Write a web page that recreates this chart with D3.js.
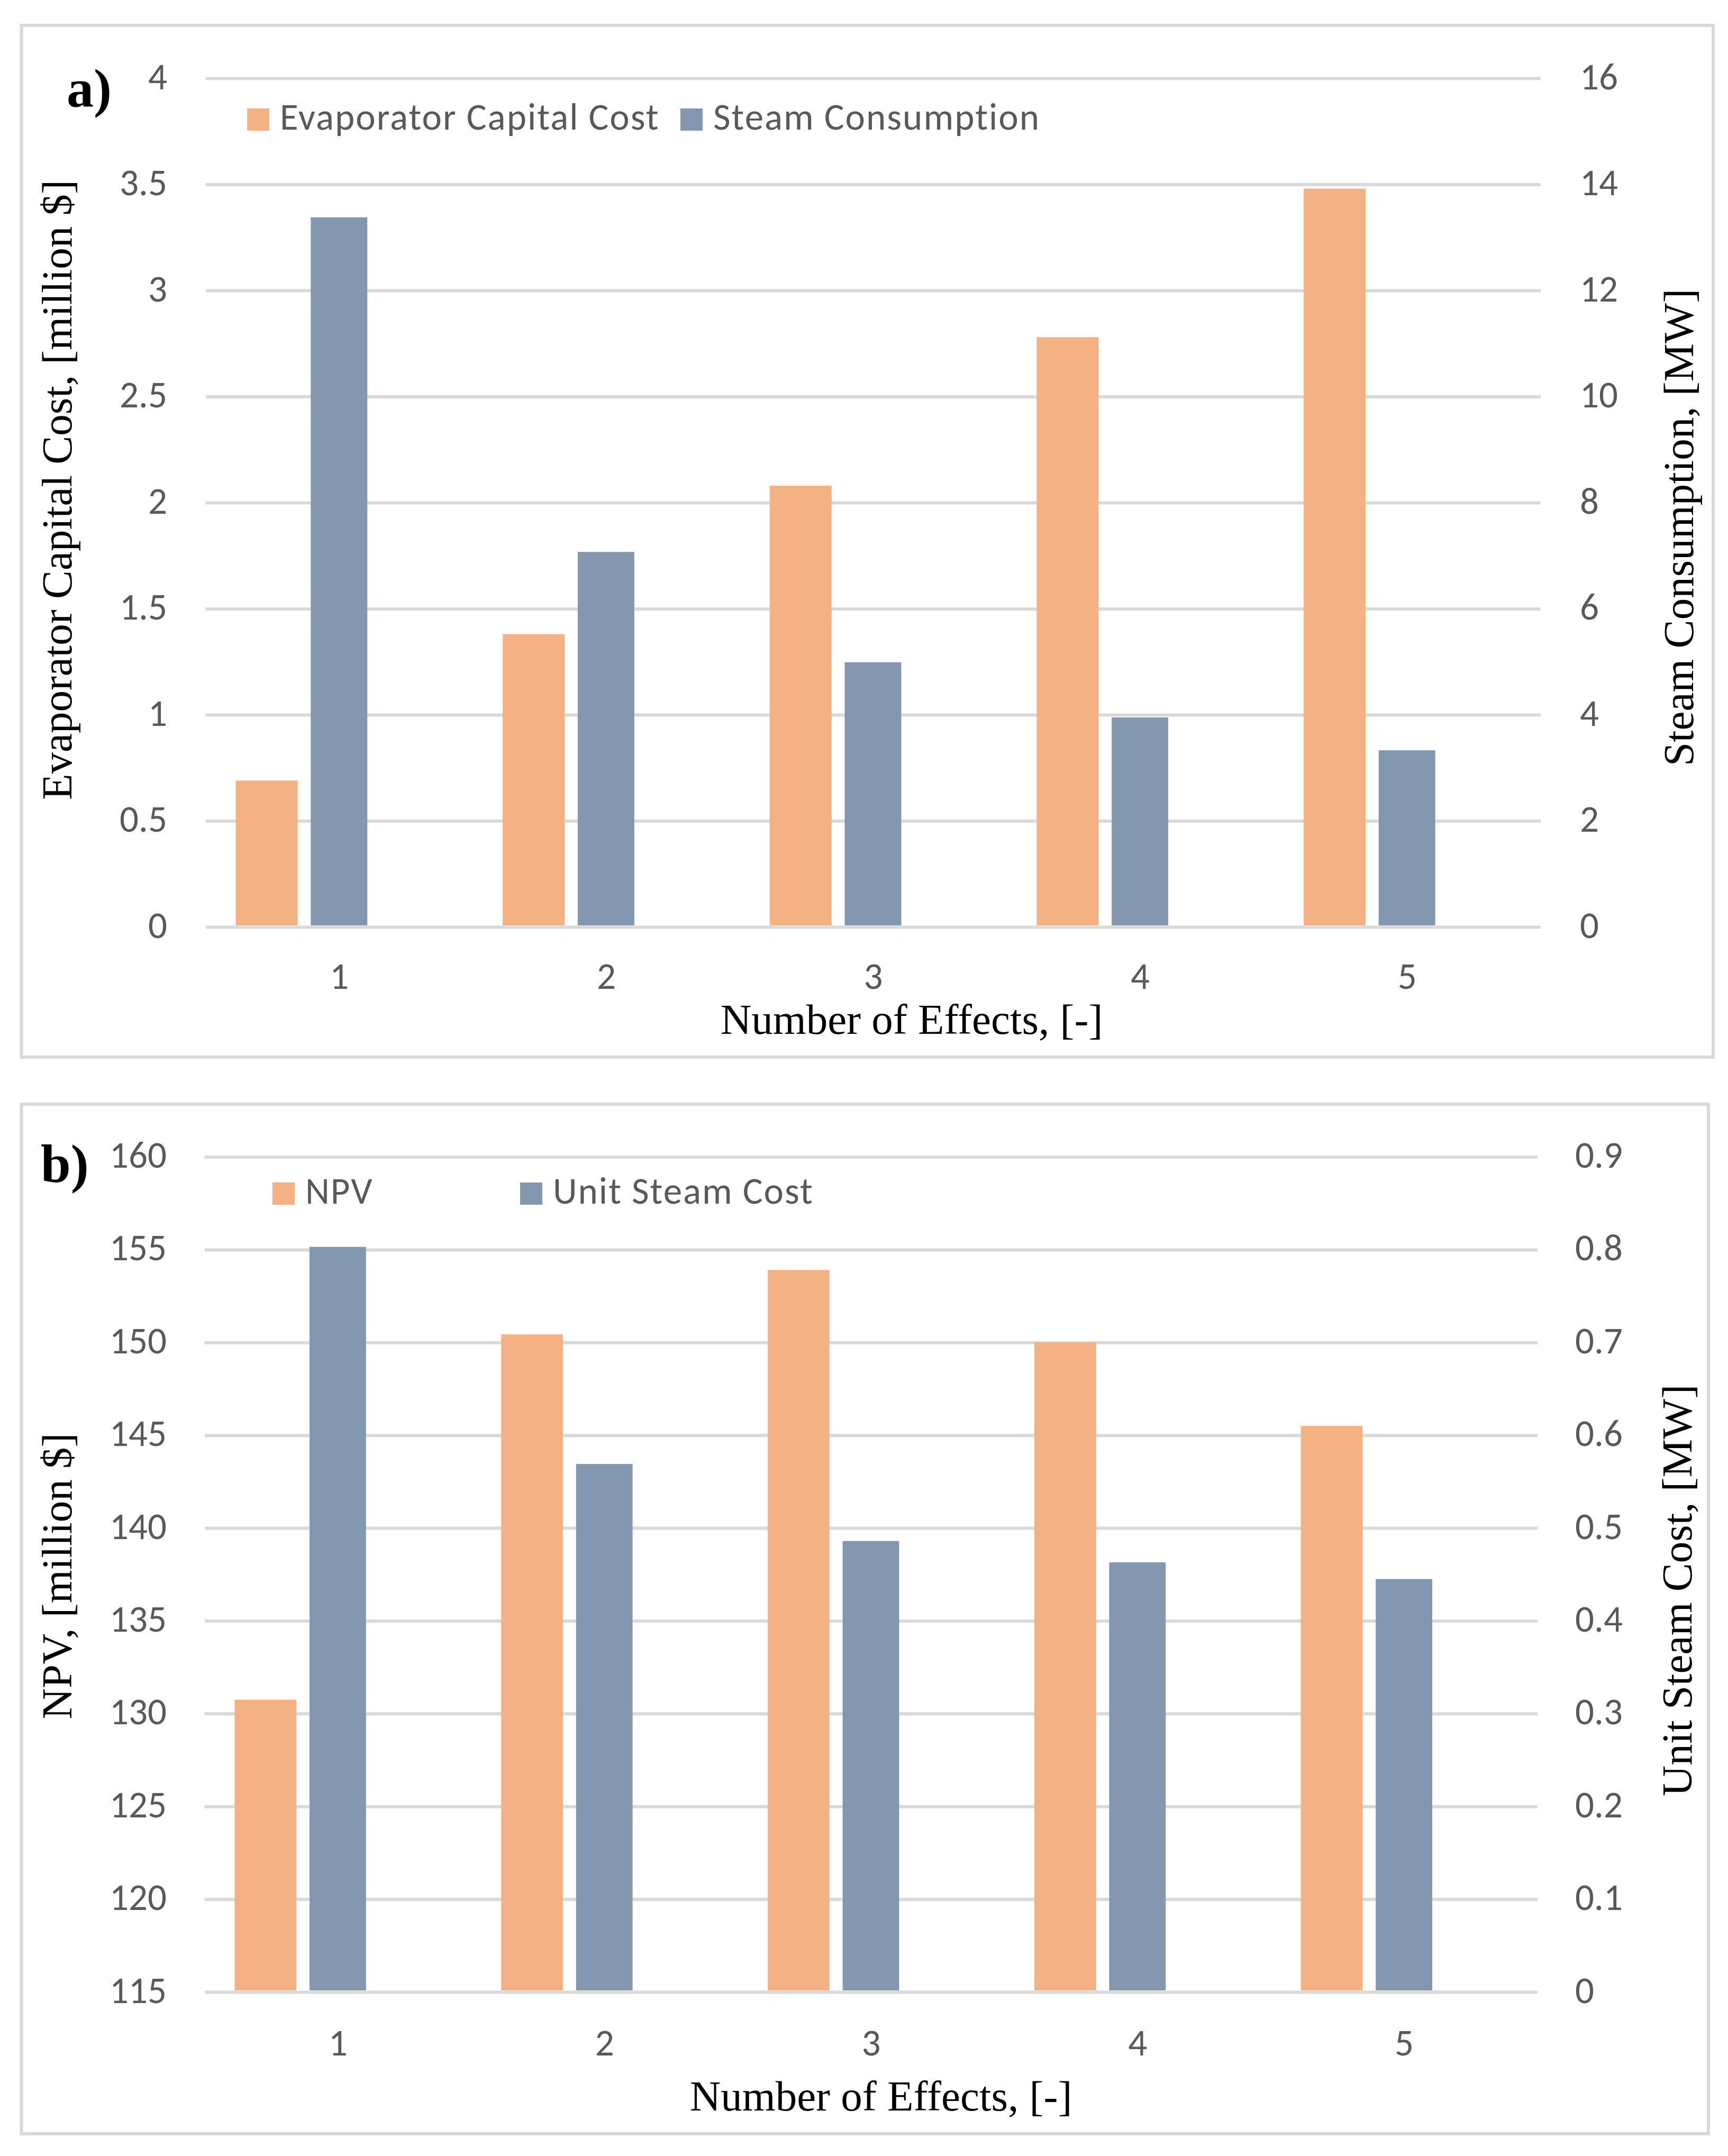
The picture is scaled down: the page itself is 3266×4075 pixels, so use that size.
<!DOCTYPE html>
<html>
<head>
<meta charset="utf-8">
<script src="https://cdn.jsdelivr.net/npm/d3@7"></script>
<style>
  body { margin: 0; background: #fff; }
  svg { display: block; }
</style>
</head>
<body>
<svg id="chart" width="3266" height="4075"></svg>
<script>
// values
const effects = ["1", "2", "3", "4", "5"];

const evapCapitalCost = [0.69, 1.38, 2.08, 2.78, 3.48];
const steamConsumption = [13.38, 7.07, 4.99, 3.95, 3.33];
const evapTicks = [0, 0.5, 1, 1.5, 2, 2.5, 3, 3.5, 4];
const steamTicks = [0, 2, 4, 6, 8, 10, 12, 14, 16];

const npv = [130.75, 150.43, 153.9, 150.0, 145.5];
const unitSteamCost = [0.803, 0.569, 0.486, 0.463, 0.445];
const npvTicks = [115, 120, 125, 130, 135, 140, 145, 150, 155, 160];
const unitCostTicks = [0, 0.1, 0.2, 0.3, 0.4, 0.5, 0.6, 0.7, 0.8, 0.9];

const ORANGE = "#F4B183", BLUE = "#8497B0", GRID = "#D9D9D9", TICK = "#595959";
const SANS = "Carlito, Calibri, 'Open Sans', sans-serif";
const SERIF = "'Liberation Serif', 'Times New Roman', serif";
const TICK_FONT = `71px ${SANS}`;

const svg = d3.select("#chart");
svg.append("rect").attr("width", 3266).attr("height", 4075).attr("fill", "#fff");

function drawPanel(p) {
  const g = svg.append("g");

  // frame
  g.append("rect")
      .attr("x", p.frame[0]).attr("y", p.frame[1])
      .attr("width", p.frame[2] - p.frame[0]).attr("height", p.frame[3] - p.frame[1])
      .attr("fill", "none").attr("stroke", GRID).attr("stroke-width", 6);

  const x = d3.scaleBand().domain(effects).range([p.left, p.right]).padding(0);
  const yL = d3.scaleLinear().domain(d3.extent(p.leftTicks)).range([p.bottom, p.top]);
  const yR = d3.scaleLinear().domain(d3.extent(p.rightTicks)).range([p.bottom, p.top]);
  const w = p.right - p.left;

  // gridlines + left labels
  const ax = g.append("g").attr("transform", `translate(${p.left},0)`)
      .call(d3.axisLeft(yL).tickValues(p.leftTicks).tickSize(-w).tickPadding(p.left - p.leftLabelX)
        .tickFormat(d3.format("")));
  ax.select(".domain").remove();
  ax.selectAll("line").attr("stroke", GRID).attr("stroke-width", 6);
  ax.selectAll("text").attr("dy", null).attr("y", 20)
      .attr("fill", TICK).style("font", TICK_FONT);

  const axR = g.append("g").attr("transform", `translate(${p.right},0)`)
      .call(d3.axisRight(yR).tickValues(p.rightTicks).tickSize(0).tickPadding(p.rightLabelX - p.right)
        .tickFormat(d3.format("")));
  axR.select(".domain").remove();
  axR.selectAll("text").attr("dy", null).attr("y", 20)
      .attr("fill", TICK).style("font", TICK_FONT);

  const axB = g.append("g").attr("transform", `translate(0,${p.bottom})`)
      .call(d3.axisBottom(x).tickSize(0));
  axB.select(".domain").remove();
  axB.selectAll("text").attr("dy", null).attr("y", p.xLabelY - p.bottom)
      .attr("fill", TICK).style("font", TICK_FONT);

  // bars: primary series on the left of each band, secondary next to it
  const bw = x.bandwidth();
  g.append("g").selectAll("rect").data(p.leftValues).join("rect")
      .attr("x", (d, i) => x(effects[i]) + bw * 0.112)
      .attr("width", bw * 0.232)
      .attr("y", d => yL(d))
      .attr("height", d => p.bottom - 3 - yL(d))
      .attr("fill", ORANGE);
  g.append("g").selectAll("rect").data(p.rightValues).join("rect")
      .attr("x", (d, i) => x(effects[i]) + bw * 0.393)
      .attr("width", bw * 0.212)
      .attr("y", d => yR(d))
      .attr("height", d => p.bottom - 3 - yR(d))
      .attr("fill", BLUE);

  // legend
  const leg = g.append("g").selectAll("g").data(p.legend).join("g");
  leg.append("rect")
      .attr("x", d => d.x).attr("y", p.legendY)
      .attr("width", 42).attr("height", 42)
      .attr("fill", (d, i) => i ? BLUE : ORANGE);
  leg.append("text")
      .attr("x", d => d.x + 62).attr("y", p.legendY + 40)
      .attr("fill", TICK).style("font", TICK_FONT).style("letter-spacing", "2px")
      .text(d => d.label);

  // axis titles
  g.append("text")
      .attr("transform", `translate(${p.leftTitle[0]},${p.leftTitle[1]}) rotate(-90)`)
      .attr("text-anchor", "middle").style("font", `81px ${SERIF}`).attr("fill", "#000")
      .text(p.leftTitleText);
  g.append("text")
      .attr("transform", `translate(${p.rightTitle[0]},${p.rightTitle[1]}) rotate(-90)`)
      .attr("text-anchor", "middle").style("font", `81px ${SERIF}`).attr("fill", "#000")
      .text(p.rightTitleText);
  g.append("text")
      .attr("x", p.xTitle[0]).attr("y", p.xTitle[1])
      .attr("text-anchor", "middle").style("font", `81px ${SERIF}`).attr("fill", "#000")
      .text("Number of Effects, [-]");

  // panel letter
  g.append("text")
      .attr("x", p.tag[0]).attr("y", p.tag[1])
      .style("font", `bold 102px ${SERIF}`).attr("fill", "#000")
      .text(p.tagText);
}

drawPanel({
  frame: [40.5, 48, 3238, 1998],
  left: 389, right: 2912, top: 148, bottom: 1752,
  leftTicks: evapTicks, rightTicks: steamTicks,
  leftValues: evapCapitalCost, rightValues: steamConsumption,
  leftLabelX: 316, rightLabelX: 2986, xLabelY: 1869,
  legendY: 205,
  legend: [{x: 467, label: "Evaporator Capital Cost"}, {x: 1286, label: "Steam Consumption"}],
  leftTitle: [135, 926], leftTitleText: "Evaporator Capital Cost, [million $]",
  rightTitle: [3200, 997], rightTitleText: "Steam Consumption, [MW]",
  xTitle: [1723, 1954],
  tag: [126, 201], tagText: "a)"
});

drawPanel({
  frame: [40.5, 2087, 3229, 4033],
  left: 387, right: 2906, top: 2186.5, bottom: 3765,
  leftTicks: npvTicks, rightTicks: unitCostTicks,
  leftValues: npv, rightValues: unitSteamCost,
  leftLabelX: 315, rightLabelX: 2977, xLabelY: 3885,
  legendY: 2235,
  legend: [{x: 515, label: "NPV"}, {x: 983, label: "Unit Steam Cost"}],
  leftTitle: [135, 2979], leftTitleText: "NPV, [million $]",
  rightTitle: [3197, 3006], rightTitleText: "Unit Steam Cost, [MW]",
  xTitle: [1665, 3989],
  tag: [77, 2234], tagText: "b)"
});
</script>
</body>
</html>
